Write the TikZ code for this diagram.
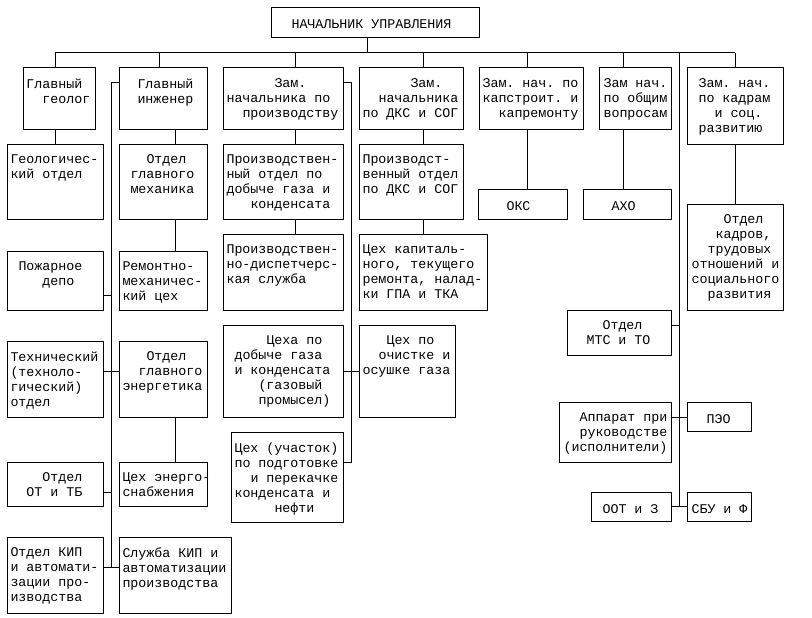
\documentclass[tikz,border=0pt]{standalone}
\usepackage{fontspec}
\newfontfamily\cour{Liberation Mono}[WordSpace={1,0,0}]
\newlength\charw \setlength\charw{8pt}
\newcommand\indt[1]{\hspace*{#1\charw}}
\newcommand\ob[7]{%
  \node[bx, minimum width={#4-#2}, minimum height={#5-#3}] (#1) at (#2,#3) {};
  \node[txt] (#1t) at (#6,#3+10) {#7};}
\begin{document}
\begin{tikzpicture}[x=1pt,y=-1pt, line width=1pt,
  bx/.style={draw, rectangle, inner sep=0pt, outer sep=0pt, anchor=north west},
  txt/.style={font=\cour\fontsize{13.33}{15}\selectfont\frenchspacing, align=left, anchor=north west, inner sep=0pt, execute at begin node=\strut}]
\useasboundingbox (0,0) rectangle (812,618);
% top
\ob{top}{271}{8}{479}{38}{291}{НАЧАЛЬНИК УПРАВЛЕНИЯ}
% level 1
\ob{gg}{23}{68}{95}{129}{26}{Главный\\\indt1 геолог}
\ob{gi}{119}{68}{207}{129}{137}{Главный\\инженер}
\ob{zp}{223}{68}{343}{129}{226}{\indt5 Зам.\\начальника по\\\indt1 производству}
\ob{zd}{359}{68}{463}{129}{362}{\indt5 Зам.\\\indt1 начальника\\по ДКС и СОГ}
\ob{zk}{479}{68}{583}{129}{482}{Зам. нач. по\\капстроит. и\\\indt1 капремонту}
\ob{zo}{599}{68}{671}{129}{603}{Зам нач.\\по общим\\вопросам}
\ob{zc}{687}{68}{783}{144}{698}{Зам. нач.\\по кадрам\\\indt1 и соц.\\развитию}
% level 2
\ob{geo}{7}{144}{103}{219}{10}{Геологичес-\\кий отдел}
\ob{mech}{119}{144}{207}{219}{130}{\indt1 Отдел\\главного\\механика}
\ob{pod}{223}{144}{343}{219}{226}{Производствен-\\ный отдел по\\добыче газа и\\\indt2 конденсата}
\ob{pdk}{359}{144}{463}{219}{362}{Производст-\\венный отдел\\по ДКС и СОГ}
\ob{oks}{478}{189}{567}{219}{506}{ОКС}
\ob{axo}{583}{189}{671}{219}{611}{АХО}
\ob{kadr}{687}{204}{783}{310}{691}{\indt3 Отдел\\\indt2 кадров,\\\indt1 трудовых\\отношений и\\социального\\\indt1 развития}
\ob{fire}{7}{251}{103}{310}{18}{Пожарное\\\indt2 депо}
\ob{rmc}{119}{251}{207}{310}{122}{Ремонтно-\\механичес-\\кий цех}
\ob{disp}{223}{234}{343}{310}{226}{Производствен-\\но-диспетчерс-\\кая служба}
\ob{kap}{359}{234}{487}{310}{362}{Цех капиталь-\\ного, текущего\\ремонта, налад-\\ки ГПА и ТКА}
\ob{tech}{7}{341}{103}{417}{10}{Технический\\(техноло-\\гический)\\отдел}
\ob{energ}{119}{341}{207}{417}{122}{\indt2 Отдел\\\indt1 главного\\энергетика}
\ob{ceha}{223}{325}{343}{417}{234}{\indt3 Цеха по\\добыче газа\\и конденсата\\\indt2 (газовый\\\indt2 промысел)}
\ob{och}{359}{325}{455}{417}{362}{\indt2 Цех по\\\indt1 очистке и\\осушке газа}
\ob{mts}{567}{310}{671}{355}{586}{\indt1 Отдел\\МТС и ТО}
\ob{otb}{7}{462}{103}{506}{26}{\indt1 Отдел\\ОТ и ТБ}
\ob{ens}{119}{462}{207}{506}{122}{Цех энерго-\\снабжения}
\ob{uch}{231}{432}{343}{522}{234}{Цех (участок)\\по подготовке\\\indt1 и перекачке\\конденсата и\\\indt4 нефти}
\ob{app}{559}{402}{671}{462}{563}{\indt1 Аппарат при\\\indt1 руководстве\\(исполнители)}
\ob{peo}{687}{402}{751}{431}{706}{ПЭО}
\ob{oot}{591}{492}{671}{521}{602}{ООТ и З}
\ob{sbu}{687}{492}{751}{521}{691}{СБУ и Ф}
\ob{kip}{7}{537}{103}{613}{10}{Отдел КИП\\и автомати-\\зации про-\\изводства}
\ob{skip}{119}{537}{231}{613}{122}{Служба КИП и\\автоматизации\\производства}
% bus
\coordinate (b0) at (367,53);
\coordinate (d1) at (55,53);
\coordinate (d2) at (159,53);
\coordinate (d3) at (295,53);
\coordinate (d4) at (423,53);
\coordinate (d5) at (527,53);
\coordinate (d6) at (623,53);
\coordinate (d7) at (735,53);
\coordinate (x175) at (175,0);
\draw (top.south -| b0) -- (b0);
\draw (d1) -- (d7);
\foreach \d/\n in {d1/gg,d2/gi,d3/zp,d4/zd,d5/zk,d6/zo,d7/zc}
  \draw (\d) -- (\n.north -| \d);
% vertical drops
\draw (gg.south -| d1) -- (geo.north -| d1);
\draw (gi.south -| x175) -- (mech.north -| x175);
\draw (mech.south -| x175) -- (rmc.north -| x175);
\draw (energ.south -| x175) -- (ens.north -| x175);
\draw (zp.south -| d3) -- (pod.north -| d3);
\draw (pod.south -| d3) -- (disp.north -| d3);
\draw (zd.south -| d4) -- (pdk.north -| d4);
\draw (pdk.south -| d4) -- (kap.north -| d4);
\draw (zk.south -| d5) -- (oks.north -| d5);
\draw (zo.south -| d6) -- (axo.north -| d6);
\draw (zc.south -| d7) -- (kadr.north -| d7);
% left trunk
\coordinate (la) at (111,83);
\coordinate (lf) at (111,295);
\coordinate (lt) at (111,371);
\coordinate (lo) at (111,492);
\coordinate (lb) at (111,567);
\draw (gi.west |- la) -- (la) -- (lb);
\draw (fire.east |- lf) -- (lf);
\draw (tech.east |- lt) -- (energ.west |- lt);
\draw (otb.east |- lo) -- (lo);
\draw (kip.east |- lb) -- (skip.west |- lb);
% middle trunk
\coordinate (ma) at (351,83);
\coordinate (mc) at (351,371);
\coordinate (mb) at (351,462);
\draw (zp.east |- ma) -- (ma) -- (mb) -- (uch.east |- mb);
\draw (ceha.east |- mc) -- (och.west |- mc);
% right trunk
\coordinate (r0) at (679,53);
\coordinate (rm) at (679,325);
\coordinate (ra) at (679,417);
\coordinate (rs) at (679,506);
\draw (r0) -- (rs);
\draw (mts.east |- rm) -- (rm);
\draw (app.east |- ra) -- (peo.west |- ra);
\draw (oot.east |- rs) -- (sbu.west |- rs);
\end{tikzpicture}
\end{document}
